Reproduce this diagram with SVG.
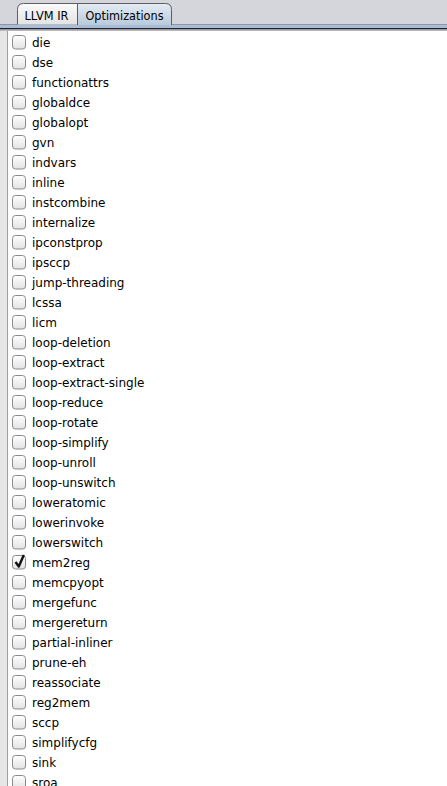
<svg xmlns="http://www.w3.org/2000/svg" xmlns:xlink="http://www.w3.org/1999/xlink" width="447" height="786" viewBox="0 0 447 786">
<style>
.lbl{font-family:"DejaVu Sans",sans-serif;font-size:12px;fill:#000}
.tab{font-family:"DejaVu Sans",sans-serif;font-size:12px;fill:#000;text-anchor:middle}
</style>
<defs>
<linearGradient id="cbg" x1="0" y1="0" x2="0" y2="1">
<stop offset="0" stop-color="#ffffff"/><stop offset="1" stop-color="#e2e2e2"/>
</linearGradient>
<linearGradient id="tabOff" x1="0" y1="0" x2="0" y2="1">
<stop offset="0" stop-color="#fbfbfb"/><stop offset="1" stop-color="#e3e3e3"/>
</linearGradient>
<linearGradient id="tabOn" x1="0" y1="0" x2="0" y2="1">
<stop offset="0" stop-color="#e4ecf4"/><stop offset="1" stop-color="#b9cadb"/>
</linearGradient>
<g id="cb"><rect x="12.5" y="-6.5" width="13" height="13.5" rx="3" ry="3" fill="url(#cbg)" stroke="#8a8a8a" stroke-width="1"/></g>
</defs>
<rect x="0" y="0" width="447" height="786" fill="#d4d6db"/>
<rect x="0" y="30" width="8" height="756" fill="#e6e6e6"/>
<rect x="8" y="31" width="439" height="755" fill="#ffffff"/>
<line x1="7.5" y1="30" x2="7.5" y2="786" stroke="#a0a0a0"/>
<g id="tabs">
<rect x="0" y="24" width="447" height="1" fill="#8e97a3"/>
<rect x="0" y="25" width="447" height="3" fill="#a9bdd4"/>
<rect x="0" y="28" width="447" height="1.5" fill="#1f2030"/>
<rect x="0" y="29.5" width="447" height="1.5" fill="#b8b8b8"/>
<g id="tab-llvm">
<path d="M17.5,24.5 V9.5 Q17.5,3.5 23.5,3.5 H77.5 V24.5" fill="url(#tabOff)" stroke="#5e5e5e"/>
<text class="tab" x="46.5" y="19.5" textLength="44" lengthAdjust="spacingAndGlyphs">LLVM IR</text>
</g>
<g id="tab-opt">
<path d="M77.5,25 V3.5 H165.5 Q171.5,3.5 171.5,9.5 V25" fill="url(#tabOn)" stroke="#5e5e5e"/>
<text class="tab" x="124.5" y="19.5" textLength="78" lengthAdjust="spacingAndGlyphs">Optimizations</text>
</g>
</g>
<g id="rows">
<g id="row-die" transform="translate(0,42)"><use xlink:href="#cb"/><text class="lbl" x="32" y="4.5">die</text></g>
<g id="row-dse" transform="translate(0,62)"><use xlink:href="#cb"/><text class="lbl" x="32" y="4.5">dse</text></g>
<g id="row-functionattrs" transform="translate(0,82)"><use xlink:href="#cb"/><text class="lbl" x="32" y="4.5">functionattrs</text></g>
<g id="row-globaldce" transform="translate(0,102)"><use xlink:href="#cb"/><text class="lbl" x="32" y="4.5">globaldce</text></g>
<g id="row-globalopt" transform="translate(0,122)"><use xlink:href="#cb"/><text class="lbl" x="32" y="4.5">globalopt</text></g>
<g id="row-gvn" transform="translate(0,142)"><use xlink:href="#cb"/><text class="lbl" x="32" y="4.5">gvn</text></g>
<g id="row-indvars" transform="translate(0,162)"><use xlink:href="#cb"/><text class="lbl" x="32" y="4.5">indvars</text></g>
<g id="row-inline" transform="translate(0,182)"><use xlink:href="#cb"/><text class="lbl" x="32" y="4.5">inline</text></g>
<g id="row-instcombine" transform="translate(0,202)"><use xlink:href="#cb"/><text class="lbl" x="32" y="4.5">instcombine</text></g>
<g id="row-internalize" transform="translate(0,222)"><use xlink:href="#cb"/><text class="lbl" x="32" y="4.5">internalize</text></g>
<g id="row-ipconstprop" transform="translate(0,242)"><use xlink:href="#cb"/><text class="lbl" x="32" y="4.5">ipconstprop</text></g>
<g id="row-ipsccp" transform="translate(0,262)"><use xlink:href="#cb"/><text class="lbl" x="32" y="4.5">ipsccp</text></g>
<g id="row-jump-threading" transform="translate(0,282)"><use xlink:href="#cb"/><text class="lbl" x="32" y="4.5">jump-threading</text></g>
<g id="row-lcssa" transform="translate(0,302)"><use xlink:href="#cb"/><text class="lbl" x="32" y="4.5">lcssa</text></g>
<g id="row-licm" transform="translate(0,322)"><use xlink:href="#cb"/><text class="lbl" x="32" y="4.5">licm</text></g>
<g id="row-loop-deletion" transform="translate(0,342)"><use xlink:href="#cb"/><text class="lbl" x="32" y="4.5">loop-deletion</text></g>
<g id="row-loop-extract" transform="translate(0,362)"><use xlink:href="#cb"/><text class="lbl" x="32" y="4.5">loop-extract</text></g>
<g id="row-loop-extract-single" transform="translate(0,382)"><use xlink:href="#cb"/><text class="lbl" x="32" y="4.5">loop-extract-single</text></g>
<g id="row-loop-reduce" transform="translate(0,402)"><use xlink:href="#cb"/><text class="lbl" x="32" y="4.5">loop-reduce</text></g>
<g id="row-loop-rotate" transform="translate(0,422)"><use xlink:href="#cb"/><text class="lbl" x="32" y="4.5">loop-rotate</text></g>
<g id="row-loop-simplify" transform="translate(0,442)"><use xlink:href="#cb"/><text class="lbl" x="32" y="4.5">loop-simplify</text></g>
<g id="row-loop-unroll" transform="translate(0,462)"><use xlink:href="#cb"/><text class="lbl" x="32" y="4.5">loop-unroll</text></g>
<g id="row-loop-unswitch" transform="translate(0,482)"><use xlink:href="#cb"/><text class="lbl" x="32" y="4.5">loop-unswitch</text></g>
<g id="row-loweratomic" transform="translate(0,502)"><use xlink:href="#cb"/><text class="lbl" x="32" y="4.5">loweratomic</text></g>
<g id="row-lowerinvoke" transform="translate(0,522)"><use xlink:href="#cb"/><text class="lbl" x="32" y="4.5">lowerinvoke</text></g>
<g id="row-lowerswitch" transform="translate(0,542)"><use xlink:href="#cb"/><text class="lbl" x="32" y="4.5">lowerswitch</text></g>
<g id="row-mem2reg" transform="translate(0,562)"><use xlink:href="#cb"/><path d="M15.5,0 L18.8,4.5 L23.8,-7" fill="none" stroke="#111" stroke-width="2.4" stroke-linejoin="round"/><text class="lbl" x="32" y="4.5">mem2reg</text></g>
<g id="row-memcpyopt" transform="translate(0,582)"><use xlink:href="#cb"/><text class="lbl" x="32" y="4.5">memcpyopt</text></g>
<g id="row-mergefunc" transform="translate(0,602)"><use xlink:href="#cb"/><text class="lbl" x="32" y="4.5">mergefunc</text></g>
<g id="row-mergereturn" transform="translate(0,622)"><use xlink:href="#cb"/><text class="lbl" x="32" y="4.5">mergereturn</text></g>
<g id="row-partial-inliner" transform="translate(0,642)"><use xlink:href="#cb"/><text class="lbl" x="32" y="4.5">partial-inliner</text></g>
<g id="row-prune-eh" transform="translate(0,662)"><use xlink:href="#cb"/><text class="lbl" x="32" y="4.5">prune-eh</text></g>
<g id="row-reassociate" transform="translate(0,682)"><use xlink:href="#cb"/><text class="lbl" x="32" y="4.5">reassociate</text></g>
<g id="row-reg2mem" transform="translate(0,702)"><use xlink:href="#cb"/><text class="lbl" x="32" y="4.5">reg2mem</text></g>
<g id="row-sccp" transform="translate(0,722)"><use xlink:href="#cb"/><text class="lbl" x="32" y="4.5">sccp</text></g>
<g id="row-simplifycfg" transform="translate(0,742)"><use xlink:href="#cb"/><text class="lbl" x="32" y="4.5">simplifycfg</text></g>
<g id="row-sink" transform="translate(0,762)"><use xlink:href="#cb"/><text class="lbl" x="32" y="4.5">sink</text></g>
<g id="row-sroa" transform="translate(0,782)"><use xlink:href="#cb"/><text class="lbl" x="32" y="4.5">sroa</text></g>
</g>
<g id="connectors"/>
</svg>
